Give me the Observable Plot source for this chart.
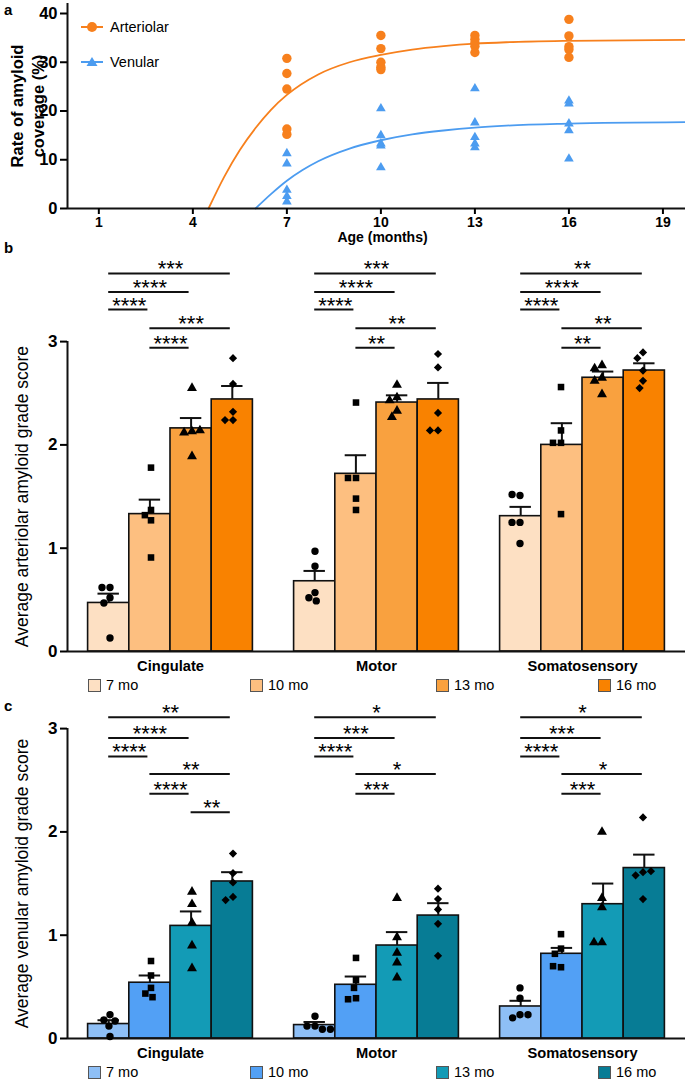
<!DOCTYPE html>
<html><head><meta charset="utf-8">
<script src="https://cdn.jsdelivr.net/npm/d3@7"></script>
<script src="https://cdn.jsdelivr.net/npm/@observablehq/plot@0.6"></script>
<style>
body{margin:0;background:#fff;font-family:"Liberation Sans",Arial,sans-serif;color:#000;}
#fig{position:relative;width:685px;height:1080px;overflow:hidden;background:#fff;}
#fig > .layer{position:absolute;left:0;}
.plabel{position:absolute;left:4px;font-weight:bold;font-size:15px;line-height:1;}
.leg{position:absolute;display:flex;align-items:center;font-size:14.5px;line-height:1;white-space:nowrap;}
.sw{width:11px;height:11px;border:1px solid #555;margin-right:5px;box-sizing:content-box;}
g[aria-label="stars"] text{letter-spacing:1px;}
</style></head><body><div id="fig"></div><script>
// ---------- Panel a data ----------
const monthTicks = [1, 4, 7, 10, 13, 16, 19];
const sampleMonths = [7, 10, 13, 16];
const arteriolarCoverage = [
  [30.8, 27.7, 24.5, 16.3, 15.2],
  [35.5, 32.8, 30.0, 29.0, 28.5],
  [35.5, 34.7, 34.0, 33.3, 32.0],
  [38.8, 35.4, 33.2, 32.6, 31.0]
];
const venularCoverage = [
  [11.3, 9.2, 3.8, 2.5, 1.4],
  [20.5, 15.0, 13.3, 12.9, 8.4],
  [24.6, 17.6, 14.6, 13.3, 12.5],
  [22.1, 21.5, 17.4, 16.0, 10.2]
];
const arteriolarFitMonths = [4.5, 5, 5.5, 6, 6.5, 7, 8, 9, 10, 11, 12, 13, 14, 16, 19.7];
const arteriolarFitValues = [0, 6.5, 12, 16.5, 20.3, 23.3, 27.5, 30, 31.5, 32.6, 33.3, 33.8, 34.1, 34.4, 34.6];
const venularFitMonths = [6, 6.5, 7, 7.5, 8, 9, 10, 11, 12, 13, 14, 16, 19.7];
const venularFitValues = [0, 3, 5.7, 7.9, 9.7, 12.3, 14, 15.2, 16, 16.6, 17, 17.4, 17.7];

// ---------- Panels b, c data ----------
const regions = ["Cingulate", "Motor", "Somatosensory"];
const ages = ["7 mo", "10 mo", "13 mo", "16 mo"];
const gradeTicks = [0, 1, 2, 3];

const arteriolarMean = [
  [0.47, 1.33, 2.16, 2.44],
  [0.68, 1.72, 2.41, 2.44],
  [1.31, 2.00, 2.65, 2.72]
];
const arteriolarErrTop = [
  [0.56, 1.47, 2.26, 2.57],
  [0.78, 1.90, 2.48, 2.60],
  [1.40, 2.21, 2.71, 2.79]
];
const arteriolarScores = [
  [[0.62, 0.62, 0.52, 0.47, 0.13], [1.78, 1.37, 1.32, 1.27, 0.91], [2.55, 2.13, 2.12, 2.14, 1.89], [2.84, 2.59, 2.32, 2.24, 2.24]],
  [[0.97, 0.825, 0.57, 0.52, 0.49], [2.41, 1.68, 1.68, 1.48, 1.37], [2.58, 2.46, 2.43, 2.33, 2.27], [2.88, 2.75, 2.31, 2.14, 2.14]],
  [[1.51, 1.52, 1.25, 1.25, 1.045], [2.56, 2.14, 2.02, 2.02, 1.33], [2.77, 2.74, 2.65, 2.62, 2.49], [2.895, 2.84, 2.72, 2.62, 2.55]]
];
const arteriolarSig = [
  [["7 mo", "16 mo", "***", 3.66], ["7 mo", "13 mo", "****", 3.48], ["7 mo", "10 mo", "****", 3.31], ["10 mo", "16 mo", "***", 3.13], ["10 mo", "13 mo", "****", 2.94]],
  [["7 mo", "16 mo", "***", 3.66], ["7 mo", "13 mo", "****", 3.48], ["7 mo", "10 mo", "****", 3.31], ["10 mo", "16 mo", "**", 3.13], ["10 mo", "13 mo", "**", 2.94]],
  [["7 mo", "16 mo", "**", 3.66], ["7 mo", "13 mo", "****", 3.48], ["7 mo", "10 mo", "****", 3.31], ["10 mo", "16 mo", "**", 3.13], ["10 mo", "13 mo", "**", 2.94]]
];

const venularMean = [
  [0.14, 0.54, 1.09, 1.52],
  [0.13, 0.52, 0.90, 1.19],
  [0.31, 0.82, 1.30, 1.65]
];
const venularErrTop = [
  [0.177, 0.61, 1.23, 1.61],
  [0.16, 0.60, 1.03, 1.31],
  [0.365, 0.877, 1.50, 1.78]
];
const venularScores = [
  [[0.23, 0.18, 0.17, 0.12, 0.02], [0.75, 0.61, 0.49, 0.435, 0.40], [1.42, 1.30, 1.12, 0.90, 0.68], [1.79, 1.60, 1.51, 1.37, 1.34]],
  [[0.216, 0.12, 0.12, 0.09, 0.09], [0.78, 0.565, 0.49, 0.39, 0.38], [1.36, 0.98, 0.83, 0.735, 0.59], [1.45, 1.35, 1.25, 1.11, 0.80]],
  [[0.49, 0.39, 0.23, 0.20, 0.23], [1.01, 0.87, 0.82, 0.69, 0.70], [2.00, 1.36, 1.27, 0.93, 0.93], [2.14, 1.61, 1.58, 1.62, 1.35]]
];
const venularSig = [
  [["7 mo", "16 mo", "**", 3.11], ["7 mo", "13 mo", "****", 2.91], ["7 mo", "10 mo", "****", 2.73], ["10 mo", "16 mo", "**", 2.56], ["10 mo", "13 mo", "****", 2.37], ["13 mo", "16 mo", "**", 2.19]],
  [["7 mo", "16 mo", "*", 3.11], ["7 mo", "13 mo", "***", 2.91], ["7 mo", "10 mo", "****", 2.73], ["10 mo", "16 mo", "*", 2.56], ["10 mo", "13 mo", "***", 2.37]],
  [["7 mo", "16 mo", "*", 3.11], ["7 mo", "13 mo", "***", 2.91], ["7 mo", "10 mo", "****", 2.73], ["10 mo", "16 mo", "*", 2.56], ["10 mo", "13 mo", "***", 2.37]]
];

const orangeShades = ["#fde0c3", "#fdbf80", "#f9a13f", "#f98200"];
const blueShades = ["#8ebff6", "#52a0f5", "#139bb6", "#077c95"];
const ageSymbols = ["circle", "square", "triangle", "diamond2"];
const ARTERIOLAR = "#f7801d";
const VENULAR = "#4c9cf0";
const FONT = '"Liberation Sans", Arial, sans-serif';

const fig = document.getElementById("fig");
function place(node, top) {
  node.classList.add("layer");
  node.style.top = top + "px";
  fig.appendChild(node);
  return node;
}
function html(str) {
  const d = document.createElement("div");
  d.innerHTML = str;
  const n = d.firstElementChild;
  fig.appendChild(n);
  return n;
}

// ---------- Panel a ----------
const artPts = sampleMonths.flatMap((m, k) => arteriolarCoverage[k].map(v => ({month: m, value: v})));
const venPts = sampleMonths.flatMap((m, k) => venularCoverage[k].map(v => ({month: m, value: v})));
const artFit = arteriolarFitMonths.map((m, k) => ({month: m, value: arteriolarFitValues[k]}));
const venFit = venularFitMonths.map((m, k) => ({month: m, value: venularFitValues[k]}));

const A_TOP = 3, A_ZERO = 208, A_PX = 4.875;
const plotA = Plot.plot({
  width: 685, height: 250,
  marginLeft: 67, marginRight: 0, marginTop: A_TOP, marginBottom: 250 - A_ZERO,
  style: {fontFamily: FONT, background: "transparent", overflow: "visible", color: "#000"},
  x: {domain: [0, 19.72]},
  y: {domain: [0, (A_ZERO - A_TOP) / A_PX]},
  marks: [
    Plot.line(artFit, {x: "month", y: "value", stroke: ARTERIOLAR, strokeWidth: 1.8, curve: "monotone-x"}),
    Plot.line(venFit, {x: "month", y: "value", stroke: VENULAR, strokeWidth: 1.8, curve: "monotone-x"}),
    Plot.dot(artPts, {x: "month", y: "value", r: 4.7, fill: ARTERIOLAR, symbol: "circle"}),
    Plot.dot(venPts, {x: "month", y: "value", r: 3.6, fill: VENULAR, symbol: "triangle"}),
    Plot.ruleX([0], {stroke: "#111", strokeWidth: 2}),
    Plot.ruleY([0], {stroke: "#111", strokeWidth: 2}),
    Plot.axisY({ticks: [0, 10, 20, 30, 40], tickFormat: "d", tickSize: 7, tickPadding: 3, fontSize: 16.5, fontWeight: "bold", strokeWidth: 2, label: null}),
    Plot.axisX({ticks: monthTicks, tickFormat: "d", tickSize: 6, tickPadding: 3, fontSize: 14, fontWeight: "bold", strokeWidth: 2, label: null}),
    Plot.text(["Age (months)"], {text: d => d, frameAnchor: "bottom", dy: 29, dx: 6, fontSize: 14, fontWeight: "bold", lineAnchor: "middle", textAnchor: "middle"}),
    Plot.text(["Rate of amyloid\ncoverage (%)"], {text: d => d, frameAnchor: "left", rotate: -90, dx: -41, fontSize: 16.5, fontWeight: "bold", lineHeight: 1.27, lineAnchor: "middle", textAnchor: "middle"})
  ]
});
place(plotA, 0);

html(`<div class="plabel" style="top:2px">a</div>`);
html(`<div style="position:absolute;left:78px;top:14px;width:150px;height:60px;font-size:14.5px;">
  <svg width="30" height="60" style="position:absolute;left:0;top:0;overflow:visible">
    <line x1="3" x2="25" y1="13" y2="13" stroke="${ARTERIOLAR}" stroke-width="2"/>
    <circle cx="14" cy="13" r="5" fill="${ARTERIOLAR}"/>
    <line x1="3" x2="25" y1="48" y2="48" stroke="${VENULAR}" stroke-width="2"/>
    <path d="M14,43 L19.5,52 L8.5,52 Z" fill="${VENULAR}"/>
  </svg>
  <div style="position:absolute;left:32px;top:5px">Arteriolar</div>
  <div style="position:absolute;left:32px;top:40px">Venular</div>
</div>`);

// ---------- Bar panels ----------
function barPanel({top, height, zeroY, pxPerUnit, title, means, errTop, scores, sig, shades}) {
  const mb = height - (zeroY - top);
  const yMax = (zeroY - top) / pxPerUnit;
  const bars = regions.flatMap((r, k) => ages.map((a, i) => ({region: r, age: a, i, mean: means[k][i], top: errTop[k][i]})));
  const pts = regions.flatMap((r, k) => ages.flatMap((a, i) => scores[k][i].map(v => ({key: r + "|" + a, age: a, value: v}))));
  const sigs = regions.flatMap((r, k) => sig[k].map(([f, t, s, l]) => ({region: r, from: ages.indexOf(f), to: ages.indexOf(t), stars: s, level: l})));
  const slotDomain = regions.flatMap((r, k) => [...ages.map(a => r + "|" + a), ...(k < regions.length - 1 ? ["gap" + k] : [])]);
  const xDom = [-1, ages.length];
  const midTick = (gradeTicks[0] + gradeTicks[gradeTicks.length - 1]) / 2;

  const base = Plot.plot({
    width: 685, height,
    marginLeft: 67, marginRight: 0, marginTop: 0, marginBottom: mb,
    style: {fontFamily: FONT, background: "transparent", overflow: "visible", color: "#000"},
    fx: {domain: regions, padding: 0},
    x: {domain: xDom, axis: null},
    y: {domain: [0, yMax]},
    color: {domain: ages, range: shades},
    marks: [
      Plot.rect(bars, {fx: "region", x1: d => d.i - 0.5, x2: d => d.i + 0.5, y1: 0, y2: "mean", fill: "age", stroke: "#111", strokeWidth: 1.6}),
      Plot.ruleX(bars, {fx: "region", x: "i", y1: "mean", y2: "top", stroke: "#111", strokeWidth: 2}),
      Plot.ruleY(bars, {fx: "region", x1: d => d.i - 0.26, x2: d => d.i + 0.26, y: "top", stroke: "#111", strokeWidth: 2}),
      Plot.ruleY([0], {stroke: "#111", strokeWidth: 2}),
      Plot.ruleX([{region: regions[0]}], {fx: "region", x: xDom[0], y1: 0, y2: gradeTicks[gradeTicks.length - 1], stroke: "#111", strokeWidth: 2}),
      Plot.ruleY(sigs, {fx: "region", x1: "from", x2: "to", y: "level", stroke: "#111", strokeWidth: 2, insetRight: 2}),
      Plot.text(sigs, {fx: "region", x: d => (d.from + d.to) / 2, y: "level", text: "stars", lineAnchor: "bottom", dy: 3, fontSize: 22, fontWeight: "normal", ariaLabel: "stars"}),
      Plot.axisY({ticks: gradeTicks, tickFormat: "d", tickSize: 7, tickPadding: 3, fontSize: 17, fontWeight: "bold", strokeWidth: 2, label: null}),
      Plot.axisFx({anchor: "bottom", tickSize: 0, tickPadding: 9, fontSize: 14.7, fontWeight: "bold", label: null}),
      Plot.text([{region: regions[0], t: title}], {fx: "region", text: "t", frameAnchor: "left", y: midTick, rotate: -90, dx: -45, fontSize: 17.5, lineAnchor: "middle", textAnchor: "middle"})
    ]
  });
  place(base, top);

  const dots = Plot.plot({
    width: 685, height,
    marginLeft: 67, marginRight: 0, marginTop: 0, marginBottom: mb,
    style: {background: "transparent", overflow: "visible"},
    fx: {domain: slotDomain, paddingInner: 0, paddingOuter: 0.5, axis: null},
    y: {domain: [0, yMax], axis: null},
    symbol: {domain: ages, range: ageSymbols},
    marks: [
      Plot.dot(pts, Plot.dodgeX({anchor: "middle", padding: 0.6, fx: "key", y: "value", r: 3.7, symbol: "age", fill: "#000", stroke: "none"}))
    ]
  });
  place(dots, top);
}

barPanel({top: 240, height: 460, zeroY: 651, pxPerUnit: 103.3, title: "Average arteriolar amyloid grade score",
  means: arteriolarMean, errTop: arteriolarErrTop, scores: arteriolarScores, sig: arteriolarSig, shades: orangeShades});
barPanel({top: 690, height: 390, zeroY: 1038, pxPerUnit: 103.3, title: "Average venular amyloid grade score",
  means: venularMean, errTop: venularErrTop, scores: venularScores, sig: venularSig, shades: blueShades});

html(`<div class="plabel" style="top:240px">b</div>`);
html(`<div class="plabel" style="top:698px">c</div>`);

function legend(centerY, shades) {
  const lefts = [88, 250, 436, 598];
  ages.forEach((a, i) => {
    html(`<div class="leg" style="left:${lefts[i]}px;top:${centerY - 8}px;height:16px"><span class="sw" style="background:${shades[i]}"></span><span>${a}</span></div>`);
  });
}
legend(685, orangeShades);
legend(1072, blueShades);
</script></body></html>
